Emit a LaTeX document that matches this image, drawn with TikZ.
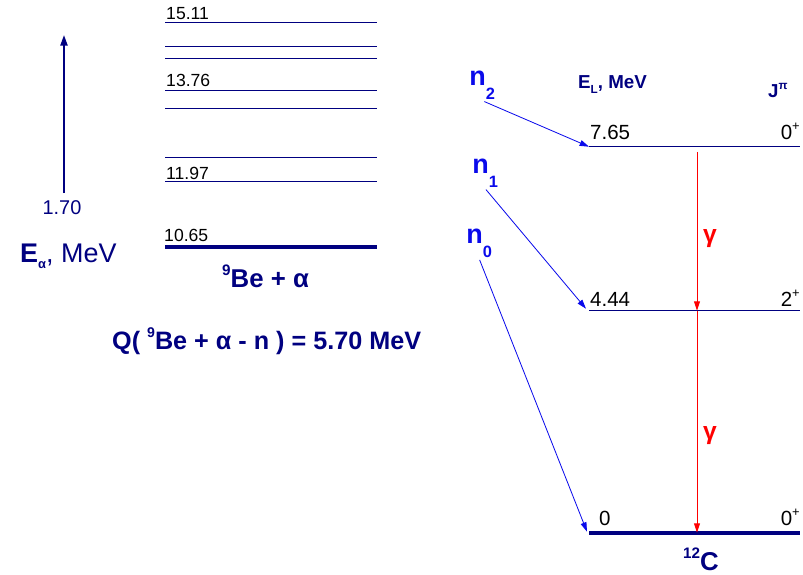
\documentclass[tikz,border=0pt]{standalone}
\usepackage{fontspec}
\setmainfont{Liberation Sans}
\usetikzlibrary{arrows.meta,positioning}
\definecolor{navy}{RGB}{0,0,128}
\definecolor{nblue}{RGB}{10,10,235}

\begin{document}
\begin{tikzpicture}[x=0.03cm, y=-0.03cm,
        lvl/.style={navy, line width=0.8pt},
        lvlbold/.style={navy, line width=3.4pt},
        belab/.style={anchor=base west, inner sep=0pt, font=\fontsize{15}{15}\selectfont},
        clab/.style={inner sep=0pt, font=\fontsize{17.5}{17.5}\selectfont},
        bigtxt/.style={navy, anchor=base west, inner sep=0pt, font=\fontsize{22}{22}\selectfont\bfseries},
        hdr/.style={navy, anchor=base west, inner sep=0pt, font=\fontsize{16}{16}\selectfont\bfseries},
        nlab/.style={nblue, anchor=base west, inner sep=1pt, font=\fontsize{23}{23}\selectfont\bfseries},
        ntrans/.style={nblue, line width=0.7pt, -{Triangle[length=8pt,width=5pt]}},
        gtrans/.style={red, line width=0.8pt, -{Triangle[length=8pt,width=5pt]}},
        glab/.style={red, inner sep=0pt, font=\fontsize{21}{21}\selectfont\bfseries}]
    \useasboundingbox (0,0) rectangle (803,574);

    % alpha energy
    \node[navy, inner sep=0pt, font=\fontsize{17}{17}\selectfont] (e170) at (62,207.5) {1.70};
    \coordinate (etop) at (64,35);
    \draw[navy, line width=1.6pt, -{Triangle[length=9pt,width=6pt]}, shorten <=6pt] (e170.north -| etop) -- (etop);
    \node[navy, anchor=base west, inner sep=0pt, font=\fontsize{23}{23}\selectfont] (ealpha) at (20,262)
        {\textbf{E}\raisebox{-0.45ex}{\fontsize{11}{11}\selectfont\bfseries α}, MeV};

    % 9Be + alpha levels
    \draw[lvl] (165,22) -- (377,22);
    \draw[lvl] (165,46) -- (377,46);
    \draw[lvl] (165,58) -- (377,58);
    \draw[lvl] (165,90) -- (377,90);
    \draw[lvl] (165,108) -- (377,108);
    \draw[lvl] (165,157) -- (377,157);
    \draw[lvl] (165,181) -- (377,181);
    \draw[lvlbold] (165,247) -- (377,247);
    \node[belab] (b1511) at (166,19) {15.11};
    \node[belab] (b1376) at (166,86) {13.76};
    \node[belab] (b1197) at (166,179) {11.97};
    \node[belab] (b1065) at (164,241) {10.65};
    \node[bigtxt] (beal) at (222,287) {\raisebox{0.85ex}{\fontsize{13}{13}\selectfont 9}Be + α};
    \node[bigtxt, font=\fontsize{21.5}{21.5}\selectfont\bfseries] (qval) at (112,349)
        {Q( \raisebox{0.85ex}{\fontsize{12}{12}\selectfont 9}Be + α - n ) = 5.70 MeV};

    % 12C levels
    \coordinate (c765) at (589,146.7);
    \coordinate (c444) at (589,310.7);
    \coordinate (c0) at (589,532.7);
    \draw[lvl] (c765) -- (800,146.7);
    \draw[lvl] (c444) -- (800,310.7);
    \draw[lvlbold] (c0) -- (800,532.7);
    \node[hdr] (el) at (578,88) {E\raisebox{-0.55ex}{\fontsize{10}{10}\selectfont L}, MeV};
    \node[hdr] (jp) at (768,97) {J\raisebox{0.75ex}{\fontsize{10}{10}\selectfont π}};
    \node[clab, anchor=base west] (l765) at (590,139) {7.65};
    \node[clab, anchor=base east] (j765) at (800,139) {0\raisebox{0.8ex}{\fontsize{11}{11}\selectfont +}};
    \node[clab, anchor=base west] (l444) at (590,306) {4.44};
    \node[clab, anchor=base east] (j444) at (800,306) {2\raisebox{0.8ex}{\fontsize{11}{11}\selectfont +}};
    \node[clab, anchor=base west] (l0) at (599,525) {0};
    \node[clab, anchor=base east] (j0) at (800,525) {0\raisebox{0.8ex}{\fontsize{11}{11}\selectfont +}};
    \node[bigtxt] (c12) at (683,570) {\raisebox{0.85ex}{\fontsize{13}{13}\selectfont 12}C};

    % neutron groups
    \node[nlab] (n2) at (468,85) {n\raisebox{-1.0ex}{\fontsize{14}{14}\selectfont 2}};
    \node[nlab] (n1) at (471,173) {n\raisebox{-1.0ex}{\fontsize{14}{14}\selectfont 1}};
    \node[nlab] (n0) at (465,243) {n\raisebox{-1.0ex}{\fontsize{14}{14}\selectfont 0}};
    \draw[ntrans, shorten <=2pt] (n2.south) -- (c765);
    \draw[ntrans, shorten <=1pt] (n1.south) -- ([shift={(-3,-2)}]c444);
    \draw[ntrans, shorten <=1pt] (n0.south) -- ([shift={(-2,-1)}]c0);

    % gamma transitions
    \coordinate (g765) at (697,146.7);
    \coordinate (g444) at (697,310.7);
    \coordinate (g0) at (697,532.7);
    \draw[gtrans, shorten <=4.5pt] (g765) -- (g444);
    \draw[gtrans] (g444) -- (g0);
    \node[glab] (gam1) at (710,239) {γ};
    \node[glab] (gam2) at (710,436) {γ};
\end{tikzpicture}
\end{document}
